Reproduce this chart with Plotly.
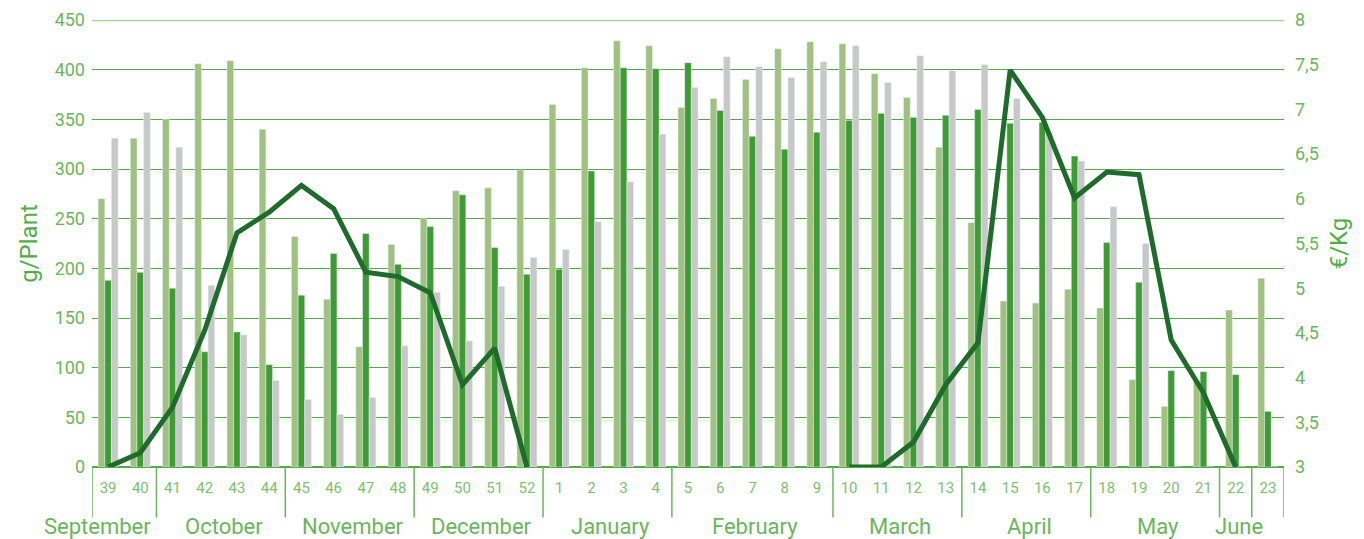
import plotly.graph_objects as go

weeks = ["39", "40", "41", "42", "43", "44", "45", "46", "47", "48", "49", "50", "51", "52",
         "1", "2", "3", "4", "5", "6", "7", "8", "9", "10", "11", "12", "13", "14", "15", "16",
         "17", "18", "19", "20", "21", "22", "23"]

series_light = [270, 331, 350, 406, 409, 340, 232, 169, 121, 224, 250, 278, 281, 299,
                365, 402, 429, 424, 362, 371, 390, 421, 428, 426, 396, 372, 322, 246,
                167, 165, 179, 160, 88, 61, 86, 158, 190]
series_dark = [188, 196, 180, 116, 136, 103, 173, 215, 235, 204, 242, 274, 221, 194,
               199, 298, 402, 401, 407, 359, 333, 320, 337, 349, 356, 352, 354, 360,
               346, 347, 313, 226, 186, 97, 96, 93, 56]
series_grey = [331, 357, 322, 183, 133, 87, 68, 53, 70, 122, 176, 127, 182, 211,
               219, 247, 287, 335, 382, 413, 403, 392, 408, 424, 387, 414, 399, 405,
               371, 337, 308, 262, 225, 0, 0, 0, 0]
price = [3.0, 3.16, 3.67, 4.53, 5.62, 5.85, 6.15, 5.89, 5.18, 5.13, 4.95, 3.92, 4.33, 3.0,
         None, None, None, None, None, None, None, None, None,
         3.0, 3.0, 3.28, 3.92, 4.39, 7.44, 6.91, 6.01, 6.30, 6.27, 4.42, 3.83, 3.0, None]

months = ["September", "October", "November", "December", "January", "February",
          "March", "April", "May", "June", ""]
month_weeks = [2, 4, 4, 4, 4, 5, 4, 4, 4, 1, 1]

Y_MAX = 450

C_LIGHT = "#a0c17f"
C_DARK = "#3f9c35"
C_GREY = "#c8c8c8"
C_LINE = "#1f6b2c"
C_TEXT = "#6ab55c"
C_TITLE = "#4fae45"
C_GRID = "#55a84a"
C_TOP = "#a5d196"
FONT = "Roboto"

fig = go.Figure()
fig.add_trace(go.Bar(x=weeks, y=series_light, marker_color=C_LIGHT, name="A"))
fig.add_trace(go.Bar(x=weeks, y=series_dark, marker_color=C_DARK, name="B"))
fig.add_trace(go.Bar(x=weeks, y=series_grey, marker_color=C_GREY, name="C"))
fig.add_trace(go.Scatter(x=weeks, y=price, yaxis="y2", mode="lines",
                         line=dict(color=C_LINE, width=5), connectgaps=False, name="€/Kg"))

shapes = []
annotations = []
start = 0
bounds = [-0.5]
for m, n in zip(months, month_weeks):
    end = start + n
    bounds.append(end - 0.5)
    center = start + (n - 1) / 2
    if m:
        annotations.append(dict(x=center, y=-0.134, xref="x", yref="paper", text=m,
                                showarrow=False, xanchor="center", yanchor="middle",
                                xshift=-27 if m == "September" else 3,
                                font=dict(family=FONT, size=22, color=C_TEXT)))
    start = end
for b in bounds:
    shapes.append(dict(type="line", xref="x", yref="paper", x0=b, x1=b, y0=0, y1=-0.113,
                       line=dict(color=C_TEXT, width=1.5)))
shapes.append(dict(type="line", xref="paper", yref="y", x0=0, x1=1, y0=Y_MAX, y1=Y_MAX,
                   line=dict(color=C_TOP, width=2.5), layer="above"))

fig.update_layout(
    width=1356, height=531,
    margin=dict(l=84, r=80, t=12, b=72, autoexpand=False),
    paper_bgcolor="white", plot_bgcolor="white",
    barmode="group", bargap=0.38, bargroupgap=0,
    showlegend=False,
    separators=",.",
    font=dict(family=FONT, color=C_TEXT),
    xaxis=dict(type="category", categoryorder="array", categoryarray=weeks,
               showgrid=False, showline=False, zeroline=False, ticks="", automargin=False,
               ticklabelstandoff=10, tickfont=dict(size=15, color="#7cc070"),
               range=[-0.5, len(weeks) - 0.5]),
    yaxis=dict(range=[0, Y_MAX], dtick=50, showgrid=True, gridcolor=C_GRID, gridwidth=1,
               zeroline=True, zerolinecolor=C_GRID, zerolinewidth=1.5, automargin=False,
               ticks="", ticklabelstandoff=6, tickfont=dict(size=18, color=C_TEXT),
               title=dict(text="g/Plant", font=dict(size=24, color=C_TITLE), standoff=10)),
    yaxis2=dict(range=[3, 8], dtick=0.5, overlaying="y", side="right", showgrid=False,
                zeroline=False, ticks="", ticklabelstandoff=10, automargin=False,
                tickfont=dict(size=18, color=C_TEXT),
                title=dict(text="€/Kg", font=dict(size=24, color=C_TITLE), standoff=12)),
    shapes=shapes,
    annotations=annotations,
)

fig.write_html("out.html")
